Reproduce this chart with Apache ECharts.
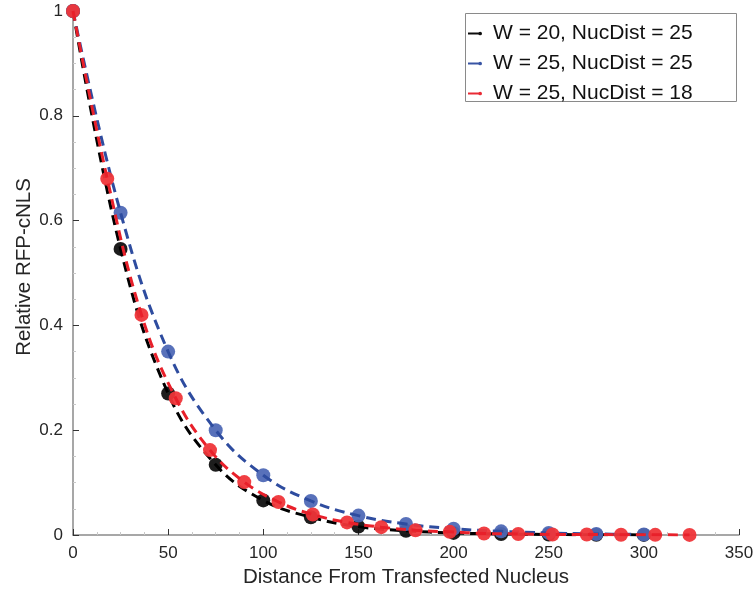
<!DOCTYPE html>
<html>
<head>
<meta charset="utf-8">
<script src="https://cdn.jsdelivr.net/npm/echarts@6/dist/echarts.min.js"></script>
<style>
  html, body { margin: 0; padding: 0; background: #fff; }
  #chart { width: 756px; height: 590px; }
</style>
</head>
<body>
<div id="chart"></div>
<script>
// distances (x) and relative intensity (y)
const xNuc25 = [0, 25, 50, 75, 100, 125, 150, 175, 200, 225, 250, 275, 300];
const yW20N25 = [1, 0.546, 0.27, 0.134, 0.066, 0.034, 0.016, 0.008, 0.004, 0.002, 0.001, 0.0005, 0.0002];
const yW25N25 = [1, 0.615, 0.35, 0.2, 0.114, 0.065, 0.037, 0.021, 0.012, 0.007, 0.004, 0.002, 0.001];
const xNuc18 = [0, 18, 36, 54, 72, 90, 108, 126, 144, 162, 180, 198, 216, 234, 252, 270, 288, 306, 324];
const yW25N18 = [1, 0.68, 0.42, 0.261, 0.162, 0.101, 0.063, 0.039, 0.024, 0.015, 0.009, 0.006, 0.003, 0.002, 0.001, 0.001, 0.0005, 0.0003, 0.0002];

const seriesNames = ['W = 20, NucDist = 25', 'W = 25, NucDist = 25', 'W = 25, NucDist = 18'];
const xTicks = [0, 50, 100, 150, 200, 250, 300, 350];
const yTicks = [0, 0.2, 0.4, 0.6, 0.8, 1];

const lineColors = ['#000000', '#2e4c9f', '#e8202a'];
const dotColors = ['#111111', '#4f69b6', '#ef3539'];

const FONT = '"Liberation Sans", Arial, Helvetica, sans-serif';

function pairs(xs, ys) {
  return xs.map((x, i) => [x, ys[i]]);
}

const groups = [
  pairs(xNuc25, yW20N25),
  pairs(xNuc25, yW25N25),
  pairs(xNuc18, yW25N18)
];

const series = [];
groups.forEach((data, i) => {
  series.push({
    name: seriesNames[i],
    type: 'scatter',
    data: data,
    symbol: 'circle',
    symbolSize: 14,
    itemStyle: { color: dotColors[i], opacity: 0.95 },
    z: 2 + i * 2,
    silent: true
  });
  series.push({
    name: seriesNames[i],
    type: 'line',
    data: data,
    smooth: 0.4,
    showSymbol: false,
    symbol: 'none',
    lineStyle: { color: lineColors[i], width: 3, type: [10, 6] },
    itemStyle: { color: lineColors[i] },
    z: 3 + i * 2,
    silent: true
  });
});

const legendIcon = 'path://M0 3h12v2H0z M15 4a2 2 0 1 1 -4 0a2 2 0 1 1 4 0z';

const axisLineColor = '#8a8a8a';
const labelColor = '#262626';

const option = {
  animation: false,
  grid: {
    left: 73,
    right: 17,
    top: 11,
    bottom: 55,
    containLabel: false,
    outerBoundsMode: 'none'
  },
  graphic: [{
    type: 'rect',
    left: 465,
    top: 13,
    shape: { width: 271, height: 88 },
    style: { fill: '#fff', stroke: '#8a8a8a', lineWidth: 1 },
    z: 90
  }],
  legend: {
    orient: 'vertical',
    left: 465,
    top: 13,
    padding: [10, 5, 2, 3],
    itemGap: 9,
    itemWidth: 14,
    itemHeight: 5,
    data: seriesNames.map((n, i) => ({ name: n, icon: legendIcon, itemStyle: { color: lineColors[i] } })),
    textStyle: { fontFamily: FONT, fontSize: 21, color: '#111', padding: [0, 0, 0, 6], lineHeight: 20 },
    selectedMode: false,
    z: 100
  },
  xAxis: {
    type: 'value',
    min: 0,
    max: 350,
    interval: 50,
    name: 'Distance From Transfected Nucleus',
    nameLocation: 'middle',
    nameGap: 31,
    nameTextStyle: { fontFamily: FONT, fontSize: 20.5, color: labelColor },
    axisLine: { show: true, lineStyle: { color: axisLineColor, width: 1.5 } },
    axisTick: { show: true, inside: true, length: 6, lineStyle: { color: '#333' } },
    minorTick: { show: true, splitNumber: 4, length: 3, lineStyle: { color: '#c8c8c8' } },
    axisLabel: { fontFamily: FONT, fontSize: 17, color: labelColor, margin: 10 },
    splitLine: { show: false }
  },
  yAxis: {
    type: 'value',
    min: 0,
    max: 1,
    interval: 0.2,
    name: 'Relative RFP-cNLS',
    nameLocation: 'middle',
    nameGap: 38,
    nameMoveOverlap: false,
    nameTextStyle: { fontFamily: FONT, fontSize: 20.5, color: labelColor, padding: [0, 0, 0, 12] },
    axisLine: { show: true, lineStyle: { color: axisLineColor, width: 1.5 } },
    axisTick: { show: true, inside: true, length: 6, lineStyle: { color: '#333' } },
    minorTick: { show: true, splitNumber: 4, length: 3, lineStyle: { color: '#c8c8c8' } },
    axisLabel: {
      fontFamily: FONT, fontSize: 17, color: labelColor, margin: 10,
      formatter: v => String(Math.round(v * 10) / 10)
    },
    splitLine: { show: false }
  },
  series: series
};

const myChart = echarts.init(document.getElementById('chart'), null, { renderer: 'canvas' });
myChart.setOption(option);
</script>
</body>
</html>
